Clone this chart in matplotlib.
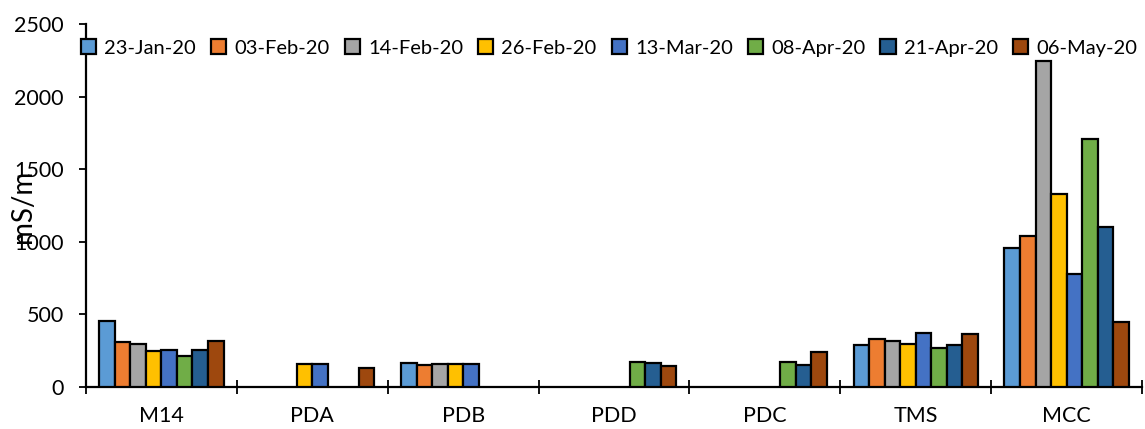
import numpy as np
import matplotlib
matplotlib.use('Agg')
import matplotlib.pyplot as plt
from matplotlib.patches import Patch

plt.rcParams['font.family'] = ['Lato', 'DejaVu Sans']

sites = ['M14', 'PDA', 'PDB', 'PDD', 'PDC', 'TMS', 'MCC']
dates = ['23-Jan-20', '03-Feb-20', '14-Feb-20', '26-Feb-20',
         '13-Mar-20', '08-Apr-20', '21-Apr-20', '06-May-20']
colors = ['#5B9BD5', '#ED7D31', '#A5A5A5', '#FFC000',
          '#4472C4', '#70AD47', '#255E91', '#9E480E']

# one list per date, one value per site (nan = no sample)
nan = np.nan
v_23jan = [458, nan, 167, nan, nan, 291, 956]
v_03feb = [310, nan, 153, nan, nan, 333, 1039]
v_14feb = [298, nan, 158, nan, nan, 317, 2243]
v_26feb = [245, 158, 161, nan, nan, 296, 1330]
v_13mar = [257, 158, 161, nan, nan, 374, 775]
v_08apr = [211, nan, nan, 174, 172, 268, 1709]
v_21apr = [252, nan, nan, 165, 149, 289, 1101]
v_06may = [319, 128, nan, 147, 238, 362, 447]
series = [v_23jan, v_03feb, v_14feb, v_26feb, v_13mar, v_08apr, v_21apr, v_06may]

fig = plt.figure(figsize=(11.45, 4.29), dpi=100)
ax = fig.add_axes([0.0751, 0.0979, 0.9223, 0.846])

n = len(series)
bw = 0.103
x = np.arange(len(sites)) + 0.5
for i, vals in enumerate(series):
    ax.bar(x + (i - (n - 1) / 2) * bw, vals, width=bw, color=colors[i],
           edgecolor='black', linewidth=1.6, zorder=3)

ax.set_xlim(0, len(sites))
ax.set_ylim(0, 2500)
ax.set_yticks(np.arange(0, 2501, 500))
ax.set_xticks(np.arange(0, len(sites) + 1))
ax.set_xticklabels([])
ax.set_xticks(x, minor=True)
ax.set_xticklabels(sites, minor=True)
ax.tick_params(axis='x', which='major', direction='inout', length=9.5, width=1.3)
ax.tick_params(axis='x', which='minor', length=0, pad=14, labelsize=15.5)
ax.tick_params(axis='y', direction='out', length=5, width=1.3, labelsize=15.5, pad=11)

for s in ['top', 'right']:
    ax.spines[s].set_visible(False)
for s in ['left', 'bottom']:
    ax.spines[s].set_linewidth(1.6)

fig.text(23 / 1145, 1 - 206 / 429, 'mS/m', rotation=90, ha='center', va='center',
         fontsize=20)

handles = [Patch(facecolor=c, edgecolor='black', linewidth=1.6) for c in colors]
fig.legend(handles, dates, loc='center', bbox_to_anchor=(0.532, 1 - 48 / 429),
           ncol=8, frameon=False, fontsize=14.5, handlelength=0.75, handleheight=0.75,
           handletextpad=0.4, columnspacing=0.75, borderaxespad=0)

fig.savefig('out.png', dpi=100)
